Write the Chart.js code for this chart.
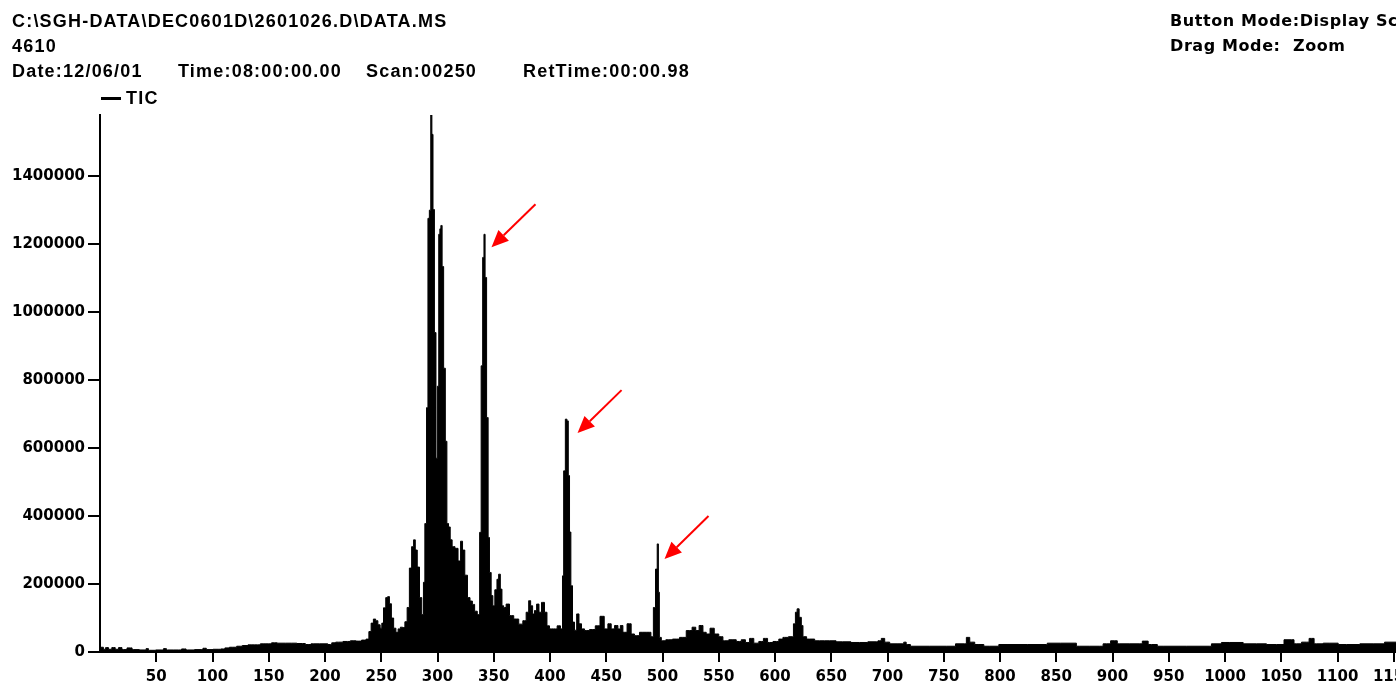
<!DOCTYPE html>
<html>
<head>
<meta charset="utf-8">
<script src="https://cdn.jsdelivr.net/npm/chart.js@4.4.1/dist/chart.umd.min.js"></script>
<style>
  html, body { margin: 0; padding: 0; background: #fff; overflow: hidden; width: 1396px; height: 685px; }
  #wrap { position: relative; width: 1396px; height: 685px; overflow: hidden; }
  #tic { position: absolute; left: 0; top: 0; }
  .hdr { position: absolute; font-family: "Liberation Sans", Arial, sans-serif; font-weight: bold; font-size: 18px; letter-spacing: 1.2px; color: #000; white-space: pre; line-height: 1; }
  .mode { position: absolute; font-family: "DejaVu Sans", sans-serif; font-weight: bold; font-size: 16px; letter-spacing: 0.6px; color: #000; white-space: pre; line-height: 1; }
  .legline { position: absolute; left: 101px; top: 97px; width: 20px; height: 3px; background: #000; }
</style>
</head>
<body>
<div id="wrap">
  <canvas id="tic" width="1500" height="685"></canvas>
  <div class="hdr" style="left:12px; top:12px;">C:\SGH-DATA\DEC0601D\2601026.D\DATA.MS</div>
  <div class="hdr" style="left:12px; top:37px;">4610</div>
  <div class="hdr" style="left:12px; top:62px;">Date:12/06/01</div>
  <div class="hdr" style="left:178px; top:62px;">Time:08:00:00.00</div>
  <div class="hdr" style="left:366px; top:62px;">Scan:00250</div>
  <div class="hdr" style="left:523px; top:62px;">RetTime:00:00.98</div>
  <div class="legline"></div>
  <div class="hdr" style="left:126px; top:89px;">TIC</div>
  <div class="mode" style="left:1170px; top:13px;">Button Mode:Display Scale</div>
  <div class="mode" style="left:1170px; top:38px;">Drag Mode:  Zoom</div>
</div>
<script>
const scans = [
  0, 2, 4, 6, 9, 12, 15, 18, 21, 27, 30, 40, 42, 44, 55, 58, 60, 70, 75, 78, 90, 93, 96, 105, 110, 112, 118, 125, 128, 135,
  140, 145, 150, 155, 160, 170, 180, 185, 190, 200, 205, 207, 212, 220, 225, 230, 235, 238,
  240, 242, 244, 246, 248, 250, 251, 253, 255, 256.5, 258, 260, 262, 264, 266, 268, 270, 272, 274, 276, 278, 279.5,
  281, 283, 285, 287, 288, 289.5, 291, 292, 293.5, 294.5, 295.5, 296.5, 298, 299.3, 300.5, 301.7, 302.5, 303.5, 304.7, 306.2,
  307.7, 309, 310.6, 312, 314, 317, 319.5, 321.5, 323, 325.5, 327.8, 330, 332, 334, 336.7, 338.2, 339.4, 340.9, 341.7, 342.9,
  344.4, 345.6, 346.8, 348.6, 349.8, 352.1, 353.6, 355.1, 356.6, 358, 359.5, 362.5, 365.5, 370, 374.4, 377.3, 380.3, 381.8, 383.8, 385.3,
  387.1, 389.1, 391.3, 393.6, 396.6, 398, 401.1, 404.9, 407.8, 410.8, 411.4, 412.9, 414.4, 415.8, 416.7, 418, 419.1, 420.9, 422.7, 424.7,
  426.8, 429.2, 432.2, 438, 442.5, 446.4, 450, 452.9, 455.9, 458.9, 461.8, 463.3, 466.3, 470.7, 473.6, 476.6, 482.5, 488.5, 490.9, 492.9,
  494.7, 495.9, 496.8, 497.6, 500.3, 505.6, 512.2, 518.1, 524.1, 528.5, 530.6, 534.5, 537.4, 540.3, 544.2, 547.8, 552.2, 555.2, 562.6, 568.5,
  571.5, 575.9, 578.9, 583.4, 587.8, 591.6, 595.2, 601.2, 605.6, 608.5, 615.4, 617.4, 618.9, 620.4, 622.5, 624.3, 625.4, 630.8, 639.7, 648.6,
  660, 675, 690, 693, 696, 699, 704.9, 713.7, 715.2, 718, 722.7, 752.3, 768.6, 771.6, 774.6, 780.5, 790.8, 807.1, 841.3, 842.7,
  864.9, 870.9, 888.7, 894.6, 902, 906.5, 924.3, 928.7, 934.7, 945, 986.5, 989.4, 1004.3, 1028, 1045.8, 1059.1, 1063.6, 1072.5, 1077, 1081.4,
  1093.2, 1108, 1131.7, 1152, 1160, 1175
];
const tic = [
  10000, 14000, 8000, 13000, 8000, 13000, 8000, 13000, 7000, 12000, 7000, 6000, 10000, 5000, 6000, 10000, 6000, 6000, 9000, 6000, 7000, 11000, 7000, 8000, 9000, 12000, 14000, 17000, 19000, 21000,
  21000, 24000, 24000, 27000, 26000, 26000, 25000, 22000, 24000, 24000, 22000, 27000, 29000, 31000, 33000, 32000, 35000, 38000,
  60000, 85000, 97000, 92000, 80000, 70000, 85000, 130000, 160000, 163000, 142000, 100000, 70000, 58000, 68000, 73000, 72000, 89000, 131000, 247000, 310000, 330000,
  300000, 250000, 160000, 110000, 205000, 378000, 719000, 1276000, 1300000, 1580000, 1523000, 1302000, 940000, 570000, 782000, 1229000, 1245000, 1255000, 1134000, 835000,
  620000, 378000, 368000, 330000, 310000, 305000, 268000, 326000, 300000, 226000, 160000, 150000, 140000, 120000, 110000, 352000, 842000, 1161000, 1229000, 1102000,
  690000, 337000, 234000, 166000, 136000, 183000, 214000, 229000, 185000, 136000, 131000, 141000, 107000, 97000, 82000, 92000, 117000, 151000, 136000, 112000,
  122000, 141000, 117000, 146000, 117000, 77000, 68000, 68000, 77000, 68000, 224000, 533000, 685000, 680000, 519000, 353000, 195000, 88000, 64000, 112000,
  83000, 68000, 63000, 66000, 77000, 105000, 68000, 83000, 68000, 78000, 68000, 78000, 58000, 83000, 53000, 48000, 58000, 58000, 45000, 131000,
  244000, 318000, 176000, 43000, 33000, 36000, 38000, 43000, 63000, 73000, 63000, 78000, 58000, 53000, 70000, 53000, 45000, 33000, 36000, 31000,
  36000, 28000, 40000, 26000, 31000, 40000, 28000, 31000, 38000, 43000, 45000, 83000, 117000, 127000, 102000, 78000, 45000, 38000, 33000, 33000,
  30000, 28000, 30000, 33000, 40000, 29000, 24000, 24000, 29000, 22000, 17000, 17000, 24000, 43000, 29000, 22000, 17000, 22000, 22000, 26000,
  26000, 17000, 17000, 24000, 33000, 24000, 24000, 32000, 22000, 17000, 17000, 24000, 28000, 24000, 22000, 36000, 24000, 29000, 40000, 24000,
  26000, 22000, 24000, 29000, 27000, 25000
];
const xTicks = [50, 100, 150, 200, 250, 300, 350, 400, 450, 500, 550, 600, 650, 700, 750, 800, 850, 900, 950, 1000, 1050, 1100, 1150, 1200];
const yTicks = [0, 200000, 400000, 600000, 800000, 1000000, 1200000, 1400000];

// peaks pointed at by the red arrows (scan, TIC at arrow tip)
const arrowScans = [348, 424.5, 501.8];
const arrowTic = [1191000, 644000, 273500];

const points = scans.map((s, i) => ({ x: s, y: tic[i] }));

const arrowPlugin = {
  id: 'arrows',
  afterDatasetsDraw(chart) {
    const c = chart.ctx;
    const xs = chart.scales.x, ys = chart.scales.y;
    c.save();
    c.strokeStyle = '#ff0000';
    c.fillStyle = '#ff0000';
    c.lineWidth = 2;
    arrowScans.forEach((s, i) => {
      const tx = xs.getPixelForValue(s);
      const ty = ys.getPixelForValue(arrowTic[i]);
      const sx = tx + 44, sy = ty - 43;
      const ang = Math.atan2(ty - sy, tx - sx);
      const hl = 17, hw = 7.5;
      const bx = tx - hl * Math.cos(ang), by = ty - hl * Math.sin(ang);
      c.beginPath();
      c.moveTo(sx, sy);
      c.lineTo(bx, by);
      c.stroke();
      c.beginPath();
      c.moveTo(tx, ty);
      c.lineTo(bx + hw * Math.sin(ang), by - hw * Math.cos(ang));
      c.lineTo(bx - hw * Math.sin(ang), by + hw * Math.cos(ang));
      c.closePath();
      c.fill();
    });
    c.restore();
  }
};

const tickFont = { family: 'DejaVu Sans', size: 15, weight: 'bold' };
const gridOpts = (len) => ({ display: true, drawOnChartArea: false, drawTicks: true, tickLength: len, color: '#000', tickColor: '#000', tickWidth: 2, lineWidth: 2 });

new Chart(document.getElementById('tic'), {
  type: 'line',
  data: {
    datasets: [{
      label: 'TIC',
      data: points,
      borderColor: '#000',
      backgroundColor: '#000',
      borderWidth: 1,
      pointRadius: 0,
      tension: 0,
      stepped: 'middle',
      fill: 'origin'
    }]
  },
  options: {
    responsive: false,
    animation: false,
    devicePixelRatio: 1,
    layout: { padding: { top: 115, right: 50, bottom: 0, left: 0 } },
    plugins: { legend: { display: false }, tooltip: { enabled: false } },
    scales: {
      x: {
        type: 'linear',
        min: 0,
        max: 1200,
        afterFit: s => { s.height = 33; },
        afterBuildTicks: s => { s.ticks = xTicks.map(v => ({ value: v })); },
        ticks: { autoSkip: false, maxRotation: 0, color: '#000', font: tickFont, padding: 6, callback: v => String(v) },
        grid: gridOpts(10),
        border: { display: true, color: '#000', width: 2 }
      },
      y: {
        min: 0,
        max: 1580000,
        afterFit: s => { s.width = 100; },
        afterBuildTicks: s => { s.ticks = yTicks.map(v => ({ value: v })); },
        ticks: { autoSkip: false, color: '#000', font: tickFont, padding: 3, callback: v => String(v) },
        grid: gridOpts(12),
        border: { display: true, color: '#000', width: 2 }
      }
    }
  },
  plugins: [arrowPlugin]
});
</script>
</body>
</html>
